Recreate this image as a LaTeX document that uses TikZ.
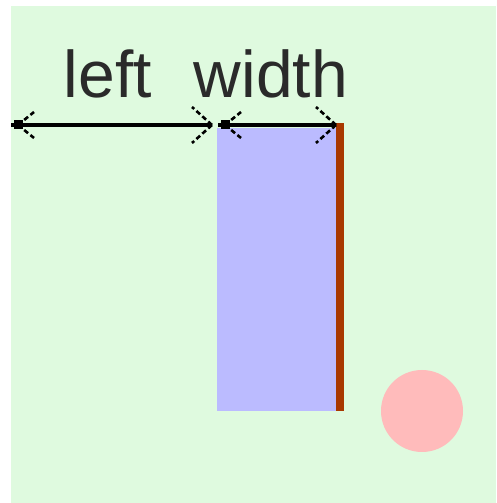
\documentclass[tikz,border=0pt]{standalone}
\usepackage{fontspec}
\setmainfont{Liberation Sans}
\definecolor{bgc}{HTML}{DFFADF}
\definecolor{boxc}{HTML}{BBBBFF}
\definecolor{barc}{HTML}{A83800}
\definecolor{dotc}{HTML}{FFBBBB}
\definecolor{txtc}{HTML}{2A2A2A}
\tikzset{
  lbl/.style={anchor=base, text=txtc, inner sep=0pt, font=\fontsize{66}{79}\selectfont},
  dimline/.style={line width=3.5pt, black},
  endtip/.pic={\draw[black, line width=2.6pt, dash pattern=on 5pt off 3pt] (0,0) -- (-20,18) (0,0) -- (-20,-18);},
  starttip/.pic={\draw[black, line width=2.6pt, dash pattern=on 5pt off 3pt] (0,0) -- (16,13) (0,0) -- (16,-13);},
  startsq/.style={fill=black, minimum size=9pt, inner sep=0pt, draw=none}
}
\begin{document}
\begin{tikzpicture}[x=1pt,y=1pt]
\useasboundingbox (0,0) rectangle (496,503);
\fill[bgc] (11,0) rectangle (496,497);
% box and bar
\fill[boxc] (217,92) rectangle (336,375);
\fill[barc] (336,92) rectangle (344,380);
\fill[dotc] (422,92) circle (41);
% labels
\node[lbl] (tleft) at (108,405) {left};
\node[lbl] (twidth) at (271,405) {width};
% dimension arrows
\coordinate (L0) at (11,378);
\coordinate (L1) at (212,378);
\coordinate (W0) at (218,378);
\coordinate (W1) at (336,378);
\draw[dimline] (L0) -- (L1);
\draw[dimline] (W0) -- (W1);
\node[startsq] (sqL) at (18,378) {};
\node[startsq] (sqW) at (225,378) {};
\pic at (sqL.center) {starttip};
\pic at (L1) {endtip};
\pic at (sqW.center) {starttip};
\pic at (W1) {endtip};
\end{tikzpicture}
\end{document}
